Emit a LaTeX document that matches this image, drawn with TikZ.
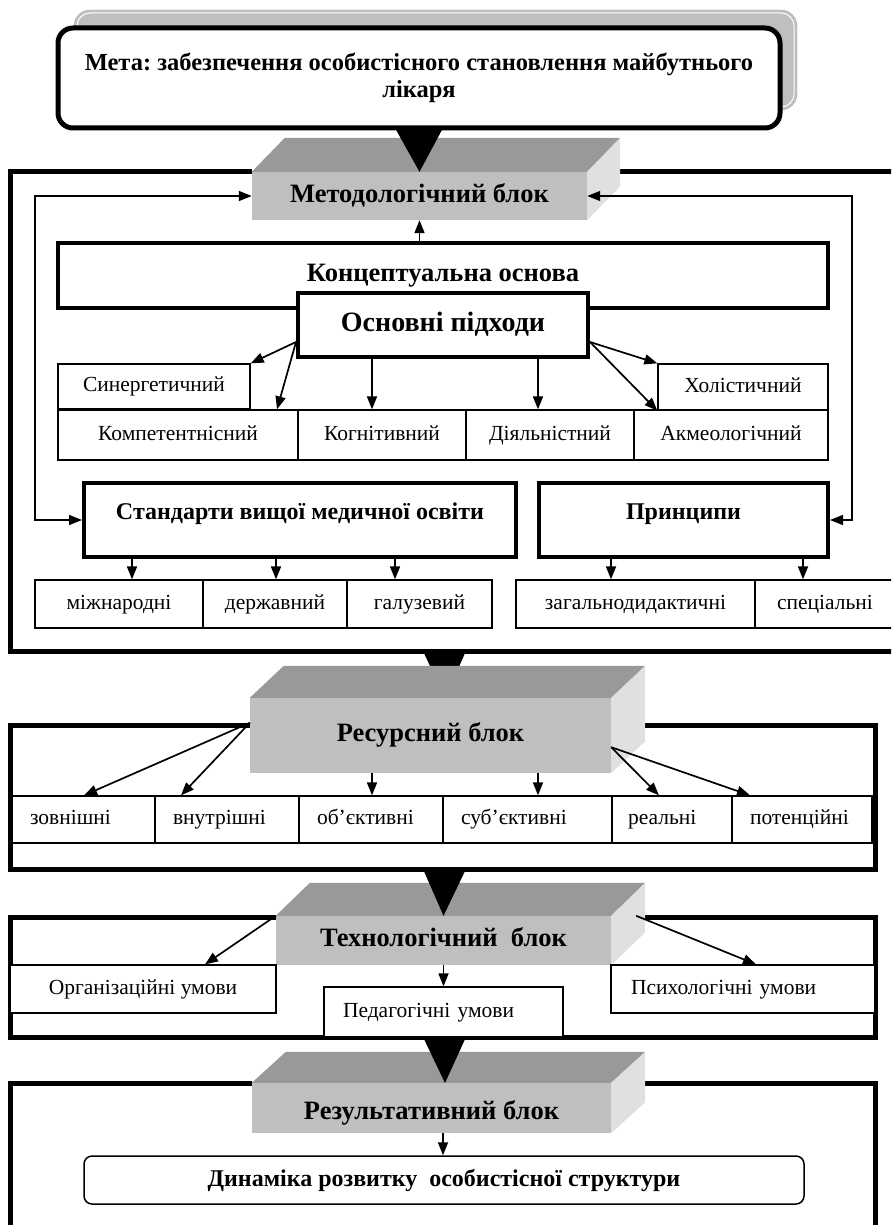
\documentclass[tikz,border=0pt]{standalone}
\usepackage{fontspec}
\setmainfont{Liberation Serif}
\usetikzlibrary{arrows.meta,calc}
\frenchspacing

% extruded top and right faces of a block whose front face is node #1
\newcommand\slabfaces[3]{%
  \fill[black!40] (#1.north west) -- ($(#1.north west)+(#2,-#3)$) -- ($(#1.north east)+(#2,-#3)$) -- (#1.north east) -- cycle;
  \fill[black!12] (#1.north east) -- ($(#1.north east)+(#2,-#3)$) -- ($(#1.south east)+(#2,-#3)$) -- (#1.south east) -- cycle;
}

\begin{document}
\begin{tikzpicture}[x=1pt,y=-1pt,
  cell/.style={draw, line width=1.3pt, fill=white, inner sep=2pt, text height=15pt, text depth=5pt,
               font=\fontsize{21.5}{25}\selectfont},
  lcell/.style={cell, align=left, inner xsep=18pt, text width=#1},
  hbox/.style={draw, line width=4pt, fill=white, inner sep=2pt, text height=18pt, text depth=6pt,
               font=\bfseries\fontsize{26.5}{30}\selectfont},
  face/.style={fill=black!25, inner sep=0pt, text height=18pt, text depth=6pt,
               font=\bfseries\fontsize{26.5}{30}\selectfont},
  frame/.style={line width=5pt},
  arr/.style={line width=1.7pt, -{Triangle[length=13pt,width=10pt]}},
  twoway/.style={line width=1.3pt, {Triangle[length=13pt,width=10pt]}-{Triangle[length=13pt,width=10pt]}},
]
\useasboundingbox (0,0) rectangle (891,1225);
\clip (0,0) rectangle (891,1225);

% ---------- goal ----------
\draw[black!30, fill=black!25, rounded corners=16] (74,10) rectangle (797,110);
\draw[white, line width=1pt, rounded corners=13] (77,13) rectangle (794,107);
\node[draw, line width=5pt, fill=white, rounded corners=15, minimum width=722, minimum height=100,
      align=center, font=\bfseries\fontsize{24.5}{27}\selectfont] (goal) at (419,78)
  {Мета: забезпечення особистісного становлення майбутнього\\лікаря};

% ---------- frames ----------
\draw[frame] (252,172) -- (10,172) -- (10,651) -- (905,651) -- (905,172) -- (612,172);
\draw[frame] (250,725) -- (10,725) -- (10,869) -- (875,869) -- (875,725) -- (636,725);
\draw[frame] (276,917) -- (10,917) -- (10,1037) -- (875,1037) -- (875,917) -- (636,917);
\draw[frame] (252,1083) -- (10,1083) -- (10,1240);
\draw[frame] (636,1083) -- (875,1083) -- (875,1240);

% ---------- methodological block ----------
\node[face, minimum width=335, minimum height=48] (mb) at (419.5,196) {Методологічний блок};
\slabfaces{mb}{33}{34}
\fill (395,128) -- (443,128) -- (mb.north) -- cycle;

\node[hbox, line width=3.5pt, minimum width=770, minimum height=65] (konc) at (443,275.5) {Концептуальна основа};
\node[hbox, minimum width=290, minimum height=64, font=\bfseries\fontsize{28}{32}\selectfont] (osn) at (443,325) {Основні підходи};

\node[cell, minimum width=192, minimum height=45] (syn) at (154,386.5) {Синергетичний};
\node[cell, minimum width=170, minimum height=46] (hol) at (743,387) {Холістичний};
\node[cell, minimum width=240, minimum height=50] (komp) at (178,435) {Компетентнісний};
\node[cell, minimum width=168, minimum height=50] (kogn) at (382,435) {Когнітивний};
\node[cell, minimum width=168, minimum height=50] (diyal) at (550,435) {Діяльністний};
\node[cell, minimum width=194, minimum height=50] (akme) at (731,435) {Акмеологічний};

\node[hbox, minimum width=432, minimum height=74, text depth=20pt, font=\bfseries\fontsize{24}{28}\selectfont] (stand) at (300,520) {Стандарти вищої медичної освіти};
\node[hbox, minimum width=289, minimum height=74, text depth=20pt, font=\bfseries\fontsize{24}{28}\selectfont] (princ) at (683.5,520) {Принципи};

\node[cell, minimum width=168, minimum height=48] (mizh) at (119,604) {міжнародні};
\node[cell, minimum width=144, minimum height=48] (derzh) at (275,604) {державний};
\node[cell, minimum width=145, minimum height=48] (haluz) at (419.5,604) {галузевий};
\node[cell, minimum width=239, minimum height=48] (zahal) at (635.5,604) {загальнодидактичні};
\node[cell, minimum width=140, minimum height=48] (spets) at (825,604) {спеціальні};

\draw[arr] (mb.south |- konc.north) -- (mb.south);
\draw[twoway] (mb.west) -| (35,0 |- stand.west) -- (stand.west);
\draw[twoway] (mb.east) -| (852,0 |- princ.east) -- (princ.east);

\coordinate (oL) at ($(osn.south west)+(0,-17)$);
\coordinate (oR) at ($(osn.south east)+(0,-17)$);
\draw[arr] (oL) -- (syn.north east);
\draw[arr] (oL) -- (komp.north -| 277,0);
\draw[arr] (osn.south -| 372,0) -- (kogn.north -| 372,0);
\draw[arr] (osn.south -| 538,0) -- (diyal.north -| 538,0);
\draw[arr] (oR) -- (hol.north west);
\draw[arr] (oR) -- (hol.south west);

\draw[arr] (stand.south -| 132,0) -- (mizh.north -| 132,0);
\draw[arr] (stand.south -| 276,0) -- (derzh.north -| 276,0);
\draw[arr] (stand.south -| 395,0) -- (haluz.north -| 395,0);
\draw[arr] (princ.south -| 611,0) -- (zahal.north -| 611,0);
\draw[arr] (princ.south -| 803,0) -- (spets.north -| 803,0);

% ---------- resource block ----------
\fill (423,651) -- (466,651) -- (445,698) -- cycle;
\node[face, minimum width=361, minimum height=75] (rb) at (430.5,735.5) {Ресурсний блок};
\slabfaces{rb}{34}{32}

\node[lcell=107pt, minimum height=47] (zovn) at (83.5,819.5) {зовнішні};
\node[lcell=108pt, minimum height=47] (vnutr) at (227,819.5) {внутрішні};
\node[lcell=108pt, minimum height=47] (obj) at (371,819.5) {об’єктивні};
\node[lcell=133pt, minimum height=47] (subj) at (527.5,819.5) {суб’єктивні};
\node[lcell=84pt, minimum height=47, inner xsep=16pt, text width=88pt] (real) at (672,819.5) {реальні};
\node[lcell=104pt, minimum height=47] (pot) at (802,819.5) {потенційні};

\coordinate (rL) at ($(rb.north west)+(0,25)$);
\coordinate (rR) at ($(rb.south east)+(0,-26)$);
\draw[arr] (rL) -- (zovn.north -| 84,0);
\draw[arr] (rL) -- (vnutr.north -| 181,0);
\draw[arr] (rb.south -| 372,0) -- (obj.north -| 372,0);
\draw[arr] (rb.south -| 538,0) -- (subj.north -| 538,0);
\draw[arr] (rR) -- (real.north -| 659,0);
\draw[arr] (rR) -- (pot.north -| 750,0);

% ---------- technological block ----------
\node[face, minimum width=335, minimum height=49] (tb) at (443.5,940.5) {Технологічний~~блок};
\slabfaces{tb}{34}{33}
\fill (423,869) -- (466,869) -- (tb.north) -- cycle;

\node[cell, minimum width=266, minimum height=48] (org) at (143,989) {Організаційні умови};
\node[lcell=201pt, minimum height=50, inner xsep=19pt] (ped) at (443.5,1012) {Педагогічні умови};
\node[lcell=224pt, minimum height=48, inner xsep=20pt] (psy) at (743,989) {Психологічні умови};

\coordinate (tR) at ($(tb.north east)+(25,0)$);
\draw[arr] (tb.north west) -- (org.north -| 205,0);
\draw[arr] (tR) -- (psy.north -| 756,0);
\draw[arr] (tb.south) -- (ped.north);

% ---------- result block ----------
\node[face, minimum width=359, minimum height=50, text height=28pt, text depth=6pt] (resb) at (431.5,1108) {Результативний блок};
\slabfaces{resb}{34}{31}
\fill (423,1037) -- (466,1037) -- (445,1083) -- cycle;

\node[draw, line width=1.5pt, rounded corners=8, fill=white, minimum width=720, minimum height=48,
      font=\bfseries\fontsize{24}{28}\selectfont] (dyn) at (444,1180) {Динаміка розвитку~~особистісної структури};
\draw[arr] (resb.south -| 443,0) -- (dyn.north -| 443,0);
\end{tikzpicture}
\end{document}
